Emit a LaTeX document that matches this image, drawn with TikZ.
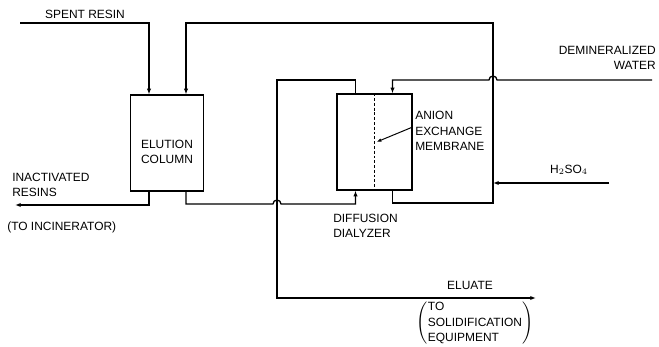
\documentclass[tikz,border=0pt]{standalone}
\usepackage{fontspec}
\setmainfont{Liberation Sans}
\usetikzlibrary{arrows.meta, calc}

\begin{document}
\begin{tikzpicture}[
    x=0.025cm, y=-0.025cm,
    % Node styles
    unit/.style={
        rectangle, draw=black, line width=0.9pt,
        minimum width=1.85cm, minimum height=2.4cm, inner sep=0pt
    },
    tag/.style={font=\fontsize{8.5}{10.8}\selectfont, inner sep=0pt},
    flow/.style={
        -{Latex[length=4pt, width=3pt]}, line width=0.9pt
    },
    pipe/.style={line width=0.9pt},
    leader/.style={-{Latex[length=3.5pt, width=2.6pt]}, line width=0.7pt},
    hop/.style={radius=0.1cm},
]
\useasboundingbox (0,0) rectangle (659,347);

% ═══════════════════════════════════════════════════════════════
% Units
% ═══════════════════════════════════════════════════════════════

\node[unit, minimum width=1.82cm] (col) at (167,143) {};
\node[tag, align=center] (colname) at (167,152) {ELUTION\\COLUMN};

\node[unit, minimum width=1.88cm] (dia) at (374.5,142) {};
\node[tag, align=left, anchor=west] (dianame) at (333,226) {DIFFUSION\\DIALYZER};

% Membrane (dashed, splits the dialyzer)
\draw[dash pattern=on 2pt off 1.4pt, line width=0.7pt] (dia.north) -- (dia.south);
\node[tag, align=left, anchor=west] (mem) at (415,131) {ANION\\EXCHANGE\\MEMBRANE};
\draw[leader] ($(dia.east)+(0,-15)$) -- ($(dia.center)+(2,0)$);

% ═══════════════════════════════════════════════════════════════
% Feeds and products
% ═══════════════════════════════════════════════════════════════

\coordinate (resin) at (20,23);
\node[tag] (resinname) at (85,14) {SPENT RESIN};

\coordinate (water) at (652,80);
\node[tag, align=right, anchor=east] (watername) at (656,58) {DEMINERALIZED\\WATER};

\coordinate (acid) at (609,183);
\node[tag] (acidname) at (569,170) {H$_2$SO$_4$};

\coordinate (waste) at (15,205);
\node[tag, align=left, anchor=west] (wastename) at (12,185) {INACTIVATED\\RESINS};
\node[tag, anchor=west] (incin) at (7,227) {(TO INCINERATOR)};

\coordinate (eluate) at (536,298);
\node[tag] (eluname) at (470,285) {ELUATE};
\node[tag] (solid) at (475,323)
    {$\left(\mbox{\begin{tabular}{@{}l@{}}TO\\SOLIDIFICATION\\EQUIPMENT\end{tabular}}\right)$};

% Routing corners
\coordinate (loopR) at (493,203);
\coordinate (loopT) at (493,23);
\coordinate (elTop) at (277,80);

% ═══════════════════════════════════════════════════════════════
% Connectors
% ═══════════════════════════════════════════════════════════════

% spent resin into the column
\draw[flow] (resin) -| ($(col.north)+(-18,0)$);

% acid loop: dialyzer back to the column
\draw[flow] ($(dia.south)+(18,0)$) |- (loopR) -- (loopT) -| ($(col.north)+(19,0)$);
\draw[flow] (acid) -- (acid -| loopR);

% demineralized water into the dialyzer (hops the loop)
\draw[flow] (water) -- ($(water -| loopT)+(4,0)$)
    arc[start angle=0, end angle=180, hop] -| ($(dia.north)+(18,0)$);

% eluate out of the dialyzer
\draw[flow] ($(dia.north)+(-19,0)$) |- (elTop) |- (eluate);

% column outlets
\draw[flow] ($(col.south)+(-18,0)$) |- (waste);
\draw[flow] ($(col.south)+(19,0)$) |- ($(elTop)+(-4,124)$)
    arc[start angle=180, end angle=0, hop] -| ($(dia.south)+(-19,0)$);

\end{tikzpicture}
\end{document}
